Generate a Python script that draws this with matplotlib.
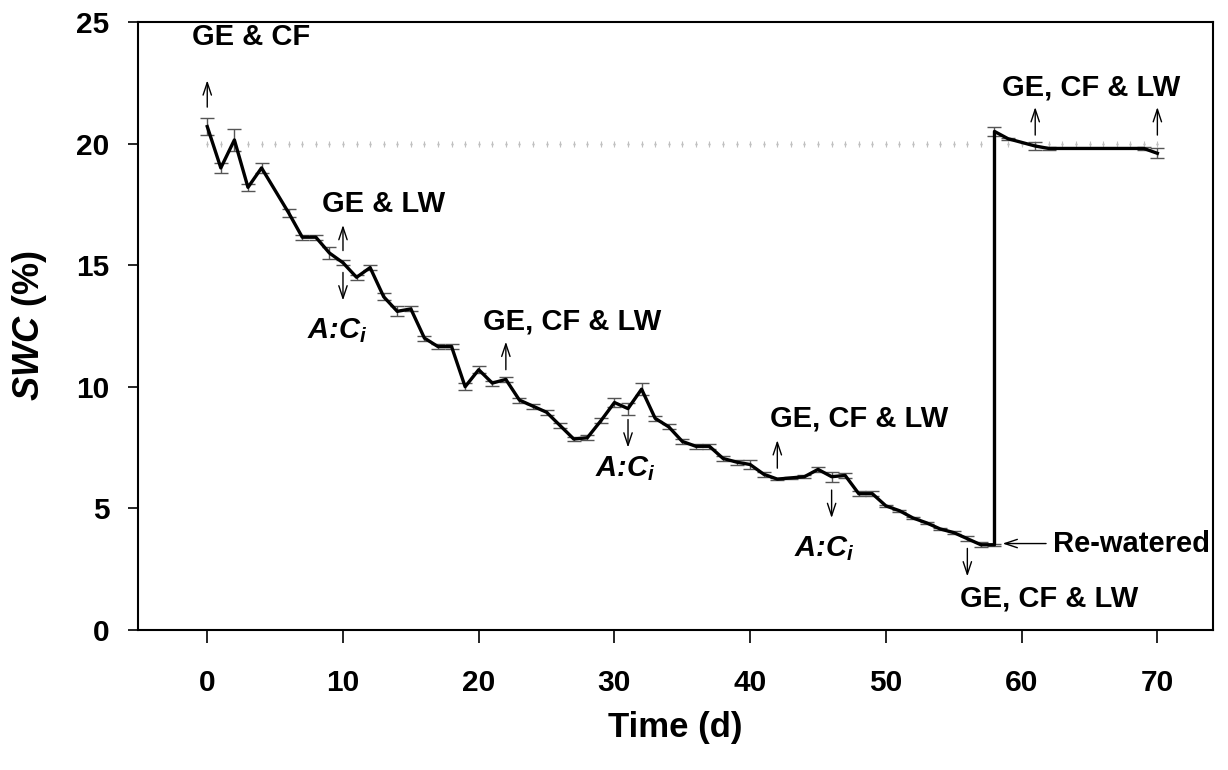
import numpy as np
import matplotlib
matplotlib.use("Agg")
import matplotlib.pyplot as plt

plt.rcParams['font.family'] = ['Liberation Sans', 'DejaVu Sans']
plt.rcParams['font.weight'] = 'bold'
plt.rcParams['mathtext.fontset'] = 'custom'
plt.rcParams['mathtext.it'] = 'Liberation Sans:bold:italic'
plt.rcParams['mathtext.rm'] = 'Liberation Sans:bold'

# drying period (days after withholding water)
drought_days = [0, 1, 2, 3, 4, 6, 7, 8, 9, 10, 11, 12, 13, 14, 15, 16, 17, 18, 19, 20,
                21, 22, 23, 24, 25, 26, 27, 28, 29, 30, 31, 32, 33, 34, 35, 36, 37, 38, 39, 40,
                41, 42, 43, 44, 45, 46, 47, 48, 49, 50, 51, 52, 53, 54, 55, 56, 57, 58]
drought_swc = [20.7, 19.0, 20.15, 18.2, 19.0, 17.15, 16.15, 16.15, 15.5, 15.1, 14.5, 14.9, 13.7, 13.1,
               13.2, 12.0, 11.65, 11.65, 10.0, 10.7, 10.15, 10.3, 9.45, 9.2, 8.95, 8.4, 7.85, 7.9,
               8.6, 9.35, 9.1, 9.9, 8.7, 8.35, 7.75, 7.55, 7.55, 7.05, 6.9, 6.8, 6.4, 6.2,
               6.25, 6.3, 6.6, 6.3, 6.35, 5.6, 5.6, 5.1, 4.9, 4.6, 4.4, 4.15, 4.0, 3.75, 3.5, 3.5]
drought_se = [0.35, 0.2, 0.45, 0.15, 0.2, 0.15, 0.1, 0.1, 0.25, 0.1, 0.1, 0.1, 0.15, 0.2,
              0.1, 0.1, 0.1, 0.1, 0.15, 0.15, 0.1, 0.1, 0.1, 0.1, 0.1, 0.1, 0.1, 0.1,
              0.1, 0.2, 0.25, 0.25, 0.1, 0.1, 0.1, 0.1, 0.1, 0.1, 0.1, 0.2, 0.1, 0.05,
              0.05, 0.05, 0.1, 0.2, 0.1, 0.1, 0.1, 0.05, 0.05, 0.05, 0.05, 0.05, 0.05, 0.1, 0.1, 0.05]

# after re-watering
recovery_days = [58, 59, 61, 62, 69, 70]
recovery_swc = [20.5, 20.2, 19.9, 19.8, 19.8, 19.6]
recovery_se = [0.2, 0.05, 0.15, 0.05, 0.05, 0.2]

# well-watered control
control_days = list(range(0, 71))
control_swc = [20.0] * 71
control_se = [0.12] * 71

fig = plt.figure(figsize=(12.28, 7.70), dpi=100)
ax = fig.add_axes([0.1124, 0.182, 0.8754, 0.7894])

# control series, light grey
ax.errorbar(control_days, control_swc, yerr=control_se, fmt='.', color='#c0c0c0',
            markersize=1.5, elinewidth=0.8, capsize=0, zorder=1)

days = drought_days + recovery_days
swc = drought_swc + recovery_swc
se = drought_se + recovery_se
ax.errorbar(days, swc, yerr=se, fmt='none', ecolor='#555555', elinewidth=1,
            capsize=5, capthick=1, zorder=2)
ax.plot(days, swc, color='k', lw=2.4, zorder=3)

ax.set_xlim(-5.1, 74.1)
ax.set_ylim(0, 25)
ax.set_xticks(range(0, 71, 10))
ax.set_yticks(range(0, 26, 5))
ax.tick_params(axis='x', direction='out', length=9, width=1.2, pad=19, labelsize=21.5)
ax.tick_params(axis='y', direction='out', length=7.5, width=1.2, pad=13, labelsize=21.5)
for s in ax.spines.values():
    s.set_linewidth(1.5)

ax.set_xlabel('Time (d)', fontsize=25, fontweight='bold', labelpad=10)
ax.set_ylabel(r'$SWC$ (%)', fontsize=26, fontweight='bold', labelpad=20)

# event labels and arrows
fs = 21
up = dict(arrowstyle='->,head_length=0.9,head_width=0.3', lw=1, color='k',
          shrinkA=0, shrinkB=0)
aci = 'A:C$_{i}$'

def arrow(x, y0, y1):
    ax.annotate('', xy=(x, y1), xytext=(x, y0), arrowprops=up)

arrow(0, 21.5, 22.6)
ax.text(3.2, 24.4, 'GE & CF', fontsize=fs, ha='center', va='center')

arrow(10, 15.6, 16.65)
ax.text(13.0, 17.5, 'GE & LW', fontsize=fs, ha='center', va='center')
arrow(10, 14.7, 13.55)
ax.text(9.6, 12.3, aci, fontsize=fs, style='italic', ha='center', va='center')

arrow(22, 10.7, 11.85)
ax.text(26.9, 12.7, 'GE, CF & LW', fontsize=fs, ha='center', va='center')
arrow(31, 8.65, 7.5)
ax.text(30.8, 6.65, aci, fontsize=fs, style='italic', ha='center', va='center')

arrow(42, 6.65, 7.8)
ax.text(48.0, 8.7, 'GE, CF & LW', fontsize=fs, ha='center', va='center')
arrow(46, 5.75, 4.6)
ax.text(45.5, 3.35, aci, fontsize=fs, style='italic', ha='center', va='center')

arrow(56, 3.35, 2.2)
ax.text(62.0, 1.3, 'GE, CF & LW', fontsize=fs, ha='center', va='center')

ax.annotate('', xy=(58.6, 3.55), xytext=(61.8, 3.55), arrowprops=up)
ax.text(62.3, 3.55, 'Re-watered', fontsize=fs, ha='left', va='center')

arrow(61, 20.35, 21.5)
arrow(70, 20.35, 21.5)
ax.text(65.1, 22.3, 'GE, CF & LW', fontsize=fs, ha='center', va='center')

fig.savefig('out.png', dpi=100)
